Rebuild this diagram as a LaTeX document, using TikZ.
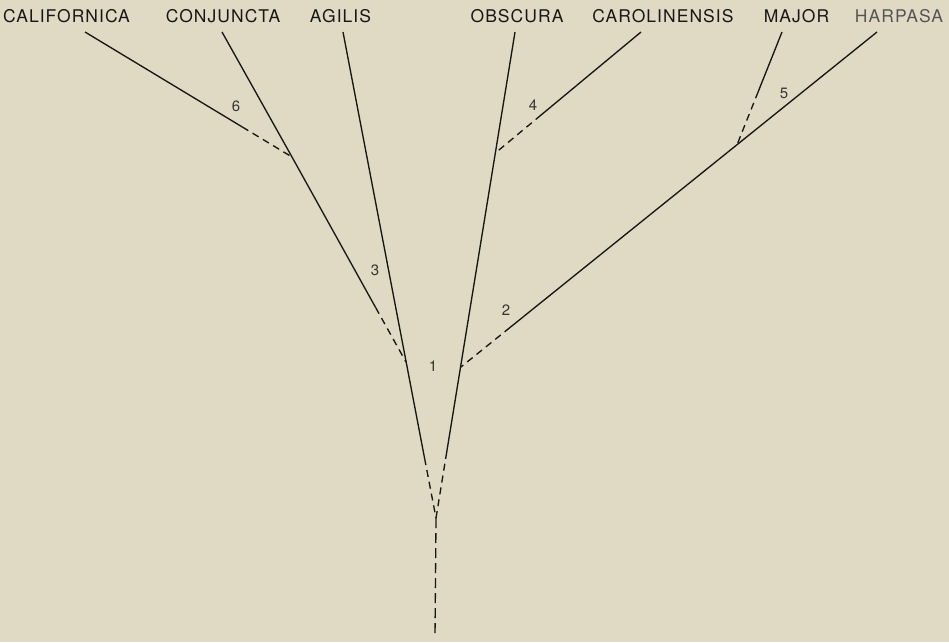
\documentclass[tikz,border=0pt]{standalone}
\usepackage{fontspec}
\setmainfont{TeX Gyre Heros}
\newfontfamily\taxfont[LetterSpace=6]{TeX Gyre Heros}
\usetikzlibrary{calc}
\definecolor{bg}{RGB}{224,218,197}
\definecolor{ink}{RGB}{25,23,21}
\definecolor{numink}{RGB}{55,53,50}
\definecolor{grayink}{RGB}{85,85,85}
\begin{document}
\begin{tikzpicture}[x=1pt,y=-1pt,
  taxon/.style={anchor=base,inner sep=0pt,text=ink,font=\taxfont\fontsize{17.5}{20}\selectfont},
  num/.style={inner sep=0pt,text=numink,font=\fontsize{15}{17}\selectfont},
  branch/.style={draw=ink,line width=1.35pt},
  hypo/.style={draw=ink,line width=1.35pt,dash pattern=on 7pt off 5pt},
  roothypo/.style={draw=ink,line width=1.35pt,dash pattern=on 10pt off 5pt}]
\fill[bg] (0,0) rectangle (949,642);
\useasboundingbox (0,0) rectangle (949,642);
% taxon labels
\node[taxon] (lCal) at (66.5,22.7) {CALIFORNICA};
\node[taxon] (lCon) at (223,22.7) {CONJUNCTA};
\node[taxon] (lAgi) at (340.5,22.7) {AGILIS};
\node[taxon] (lObs) at (517,22.7) {OBSCURA};
\node[taxon] (lCar) at (663,22.7) {CAROLINENSIS};
\node[taxon] (lMaj) at (796.5,22.7) {MAJOR};
\node[taxon,text=grayink] (lHar) at (899,22.7) {HARPASA};
% tips
\coordinate (tCal) at (85,32);
\coordinate (tCon) at (222,32);
\coordinate (tAgi) at (343,32);
\coordinate (tObs) at (515,32);
\coordinate (tCar) at (641,32);
\coordinate (tMaj) at (782,32);
\coordinate (tHar) at (877,32);
% internal points
\coordinate (root) at (436,518);
\coordinate (base) at (435,636);
\coordinate (n6) at (292,157);
\coordinate (n3) at (406,362);
\coordinate (n1) at ($(tObs)!0.69!(root)$);
\coordinate (n4) at ($(tObs)!0.249!(root)$);
\coordinate (n5) at ($(tHar)!0.336!(n1)$);
% dash starts
\coordinate (dCal) at ($(tCal)!0.76!(n6)$);
\coordinate (dCon) at ($(tCon)!0.835!(n3)$);
\coordinate (dAgi) at ($(tAgi)!0.877!(root)$);
\coordinate (dObs) at ($(tObs)!0.864!(root)$);
\coordinate (dCar) at ($(tCar)!0.686!(n4)$);
\coordinate (dHar) at ($(tHar)!0.881!(n1)$);
\coordinate (dMaj) at ($(tMaj)!0.53!(n5)$);
% solid branches
\draw[branch] (tCal) -- (dCal);
\draw[branch] (tCon) -- (n6) -- (dCon);
\draw[branch] (tAgi) -- (dAgi);
\draw[branch] (tObs) -- (dObs);
\draw[branch] (tCar) -- (dCar);
\draw[branch] (tHar) -- (dHar);
\draw[branch] (tMaj) -- (dMaj);
% hypothetical (dashed) connections
\draw[hypo] (dCal) -- (n6);
\draw[hypo] (dCon) -- (n3);
\draw[hypo] (dAgi) -- (root);
\draw[hypo] (dObs) -- (root);
\draw[hypo] (dCar) -- (n4);
\draw[hypo] (dHar) -- (n1);
\draw[hypo] (dMaj) -- (n5);
\draw[roothypo] (root) -- (base);
% numbers
\node[num] (k1) at (433,366) {1};
\node[num] (k2) at (506,310) {2};
\node[num] (k3) at (375,270) {3};
\node[num] (k4) at (533,105) {4};
\node[num] (k5) at (784,93) {5};
\node[num] (k6) at (236,106) {6};
\end{tikzpicture}
\end{document}
